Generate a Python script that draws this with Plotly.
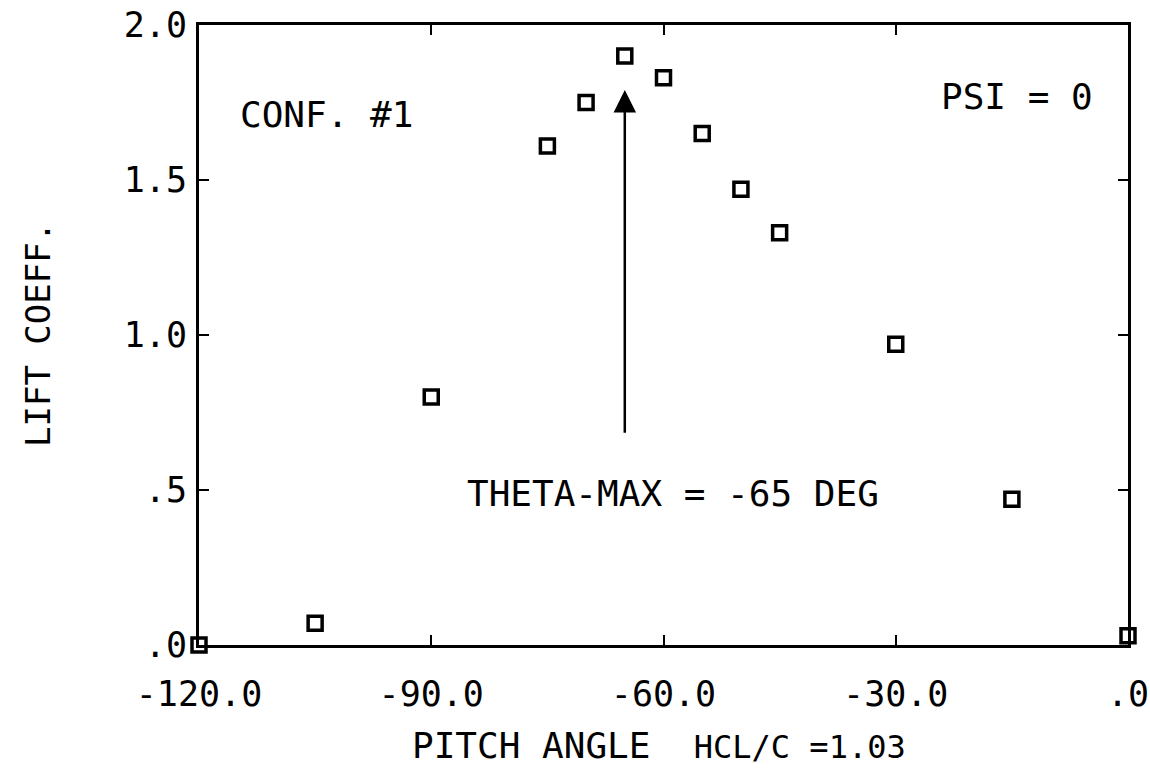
import plotly.graph_objects as go

# Lift coefficient vs. pitch angle, configuration #1, PSI = 0
pitch_deg = [-120, -105, -90, -75, -70, -65, -60, -55, -50, -45, -30, -15, 0]
lift_coeff = [0.00, 0.07, 0.80, 1.61, 1.75, 1.90, 1.83, 1.65, 1.47, 1.33, 0.97, 0.47, 0.03]

x_tickvals = [-120, -90, -60, -30, 0]
x_ticktext = ["-120.0", "-90.0", "-60.0", "-30.0", ".0"]
y_tickvals = [0.0, 0.5, 1.0, 1.5, 2.0]
y_ticktext = [".0", ".5", "1.0", "1.5", "2.0"]

theta_max = -65
arrow_from = 0.68
arrow_to = 1.79

FONT = "DejaVu Sans Mono"
INK = "black"

fig = go.Figure()
fig.add_trace(go.Scatter(
    x=pitch_deg, y=lift_coeff, mode="markers",
    marker=dict(symbol="square-open", size=14, color=INK, line=dict(width=3.5, color=INK)),
    cliponaxis=False, showlegend=False,
))

axis_common = dict(
    showline=True, linecolor=INK, linewidth=3, mirror="ticks",
    ticks="inside", ticklen=10, tickwidth=2, tickcolor=INK,
    showgrid=False, zeroline=False, automargin=False,
    tickfont=dict(family=FONT, size=35, color=INK),
)

fig.update_xaxes(range=[-120, 0], tickvals=x_tickvals, ticktext=x_ticktext,
                 ticklabelstandoff=16, **axis_common)
fig.update_yaxes(range=[0, 2], tickvals=y_tickvals, ticktext=y_ticktext,
                 ticklabelstandoff=2, **axis_common)

# Arrow pointing at the lift maximum
fig.add_annotation(x=theta_max, y=arrow_to, ax=theta_max, ay=arrow_from,
                   xref="x", yref="y", axref="x", ayref="y",
                   showarrow=True, arrowhead=2, arrowsize=1.8, arrowwidth=2.5,
                   arrowcolor=INK, text="")

text_font = dict(family=FONT, size=36, color=INK)
fig.add_annotation(x=-85.6, y=0.49, xref="x", yref="y", text="THETA-MAX = -65 DEG",
                   showarrow=False, font=text_font, xanchor="left", yanchor="middle")
fig.add_annotation(x=-115, y=1.71, xref="x", yref="y", text="CONF. #1",
                   showarrow=False, font=text_font, xanchor="left", yanchor="middle")
fig.add_annotation(x=-4.2, y=1.77, xref="x", yref="y", text="PSI = 0",
                   showarrow=False, font=text_font, xanchor="right", yanchor="middle")

# Axis titles
fig.add_annotation(x=(659 - 199) / 929, y=0, xref="paper", yref="paper", yshift=-100,
                   text="PITCH ANGLE  <span style='font-size:32px'>HCL/C =1.03</span>",
                   showarrow=False, font=text_font, xanchor="center", yanchor="middle")
fig.add_annotation(x=0, y=0.5, xref="paper", yref="paper", xshift=-161,
                   text="LIFT COEFF.", textangle=-90,
                   showarrow=False, font=dict(family=FONT, size=34, color=INK),
                   xanchor="center", yanchor="middle")

fig.update_layout(
    width=1150, height=770,
    margin=dict(l=199, r=22, t=25, b=125),
    paper_bgcolor="white", plot_bgcolor="white",
    font=dict(family=FONT, color=INK),
)

fig.write_html("out.html")
